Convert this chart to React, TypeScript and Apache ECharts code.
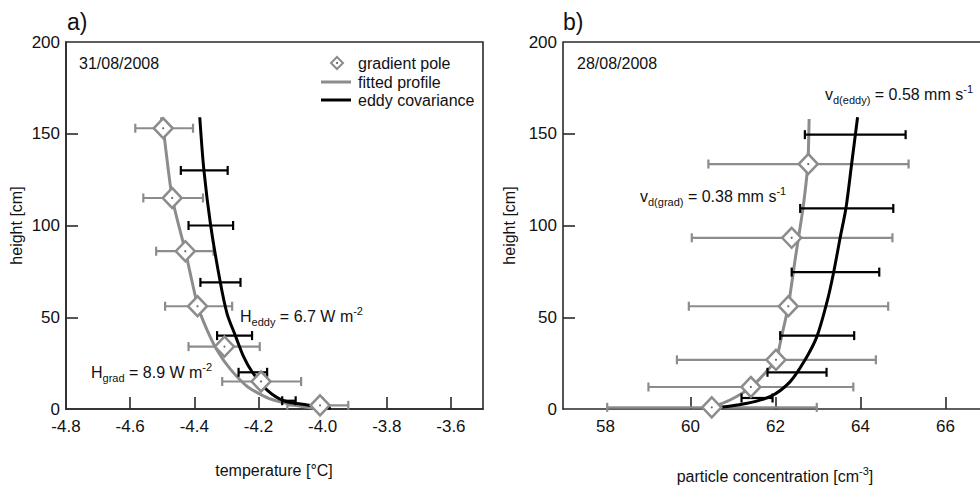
import React, { useEffect, useRef } from "react";
import * as echarts from "echarts";

// ---------- Panel a: temperature ----------
const tempXTicks = [-4.8, -4.6, -4.4, -4.2, -4.0, -3.8, -3.6];
const heightTicks = [0, 50, 100, 150, 200];

// gradient pole (diamonds) with horizontal error bars
const tempGradHeights = [153, 115, 86, 56, 34, 15, 2];
const tempGradValues = [-4.497, -4.469, -4.428, -4.39, -4.306, -4.192, -4.008];
const tempGradLow = [-4.584, -4.559, -4.519, -4.491, -4.418, -4.313, -4.11];
const tempGradHigh = [-4.404, -4.373, -4.34, -4.282, -4.196, -4.067, -3.92];

// fitted profile (grey curve)
const tempFitHeights = [159, 153, 115, 86, 56, 43, 32, 22, 12, 5.8, 2.2, 0.4];
const tempFitValues = [-4.503, -4.497, -4.469, -4.428, -4.389, -4.36, -4.329, -4.289, -4.233, -4.168, -4.09, -4.027];

// eddy covariance (black curve)
const tempEddyHeights = [159, 130, 100, 70, 52, 40, 28.4, 20.3, 10.3, 4.5, 2.2, 1.2, 0.4];
const tempEddyValues = [-4.383, -4.37, -4.349, -4.32, -4.298, -4.272, -4.246, -4.22, -4.173, -4.121, -4.048, -4.006, -3.975];

// eddy covariance error bars
const tempEddyBarHeights = [130, 100, 69, 40, 20, 4.5];
const tempEddyBarLow = [-4.442, -4.418, -4.381, -4.329, -4.262, -4.126];
const tempEddyBarHigh = [-4.296, -4.279, -4.256, -4.22, -4.173, -4.084];

// ---------- Panel b: particle concentration ----------
const partXTicks = [58, 60, 62, 64, 66];

const partGradHeights = [133.5, 93.3, 56, 26.8, 12, 0.9];
const partGradValues = [62.77, 62.38, 62.3, 62.01, 61.42, 60.5];
const partGradLow = [60.42, 60.03, 59.96, 59.68, 59.01, 58.04];
const partGradHigh = [65.13, 64.75, 64.65, 64.36, 63.83, 62.97];

const partFitHeights = [158, 133.5, 110, 93.3, 82.8, 56, 39.3, 26.8, 18.5, 11.8, 4.9, 0.9];
const partFitValues = [62.79, 62.76, 62.65, 62.54, 62.47, 62.3, 62.14, 62.01, 61.71, 61.42, 60.93, 60.5];

const partEddyHeights = [159, 133.5, 110, 93.3, 73.7, 59.2, 39.3, 26.6, 14.8, 6.7, 2.7, 0.9];
const partEddyValues = [63.93, 63.79, 63.66, 63.52, 63.36, 63.22, 62.97, 62.69, 62.34, 61.87, 61.24, 60.69];

const partEddyBarHeights = [149.5, 109.3, 74.6, 40, 20, 6];
const partEddyBarLow = [62.69, 62.58, 62.38, 62.11, 61.81, 61.2];
const partEddyBarHigh = [65.06, 64.77, 64.44, 63.85, 63.2, 61.93];

const GREY = "#8c8c8c";
const AXIS = "#2a2a2a";
const FONT = "'Liberation Sans', Arial, sans-serif";

function pairs(xs: number[], ys: number[]) {
  return xs.map((x, i) => [x, ys[i]]);
}
function bars(h: number[], lo: number[], hi: number[]) {
  return h.map((v, i) => [v, lo[i], hi[i]]);
}

function errRender(color: string) {
  return (params: any, api: any) => {
    const h = api.value(0);
    const lo = api.coord([api.value(1), h]);
    const hi = api.coord([api.value(2), h]);
    const cap = 4.5;
    const st = { stroke: color, lineWidth: 2.2 };
    return {
      type: "group",
      children: [
        { type: "line", shape: { x1: lo[0], y1: lo[1], x2: hi[0], y2: hi[1] }, style: st },
        { type: "line", shape: { x1: lo[0], y1: lo[1] - cap, x2: lo[0], y2: lo[1] + cap }, style: st },
        { type: "line", shape: { x1: hi[0], y1: hi[1] - cap, x2: hi[0], y2: hi[1] + cap }, style: st },
      ],
    };
  };
}

function panelSeries(idx: number, gradH: number[], gradV: number[], gradLo: number[], gradHi: number[],
  fitH: number[], fitV: number[], eddyH: number[], eddyV: number[], ebH: number[], ebLo: number[], ebHi: number[]) {
  const ax = { xAxisIndex: idx, yAxisIndex: idx };
  return [
    {
      type: "custom", ...ax, renderItem: errRender(GREY), z: 2,
      encode: { x: [1, 2], y: 0 }, data: bars(gradH, gradLo, gradHi), silent: true,
    },
    {
      type: "line", ...ax, z: 3, smooth: 0.2, showSymbol: false, symbol: "none",
      lineStyle: { color: GREY, width: 3 }, data: pairs(fitV, fitH),
    },
    {
      type: "line", ...ax, z: 4, smooth: 0.3, showSymbol: false, symbol: "none",
      lineStyle: { color: "#000", width: 3 }, data: pairs(eddyV, eddyH),
    },
    {
      type: "custom", ...ax, renderItem: errRender("#000"), z: 5,
      encode: { x: [1, 2], y: 0 }, data: bars(ebH, ebLo, ebHi), silent: true,
    },
    {
      type: "scatter", ...ax, z: 6, symbol: "diamond", symbolSize: [19, 20],
      itemStyle: { color: "#fff", borderColor: GREY, borderWidth: 2.5, opacity: 1 },
      data: pairs(gradV, gradH),
    },
    {
      type: "scatter", ...ax, z: 7, symbol: "circle", symbolSize: 2.2,
      itemStyle: { color: "#444" }, data: pairs(gradV, gradH),
    },
  ];
}

function xAxisDef(idx: number, min: number, max: number, ticks: number[], fmt: (v: number) => string) {
  return {
    type: "value", gridIndex: idx, min, max,
    axisLine: { show: true, onZero: false, lineStyle: { color: AXIS, width: 1.6 } },
    axisTick: { show: true, inside: true, length: 12, customValues: ticks.slice(1), lineStyle: { color: AXIS, width: 1.6 } },
    axisLabel: { customValues: ticks, formatter: fmt, fontSize: 17, color: "#111", margin: 9, fontFamily: FONT },
    splitLine: { show: false },
  };
}

function yAxisDef(idx: number, gap: number) {
  return {
    type: "value", gridIndex: idx, min: 0, max: 200,
    axisLine: { show: true, onZero: false, lineStyle: { color: AXIS, width: 1.6 } },
    axisTick: { show: true, inside: true, length: 12, customValues: heightTicks.slice(1, 4), lineStyle: { color: AXIS, width: 1.6 } },
    axisLabel: { customValues: heightTicks, fontSize: 17, color: "#111", margin: 6, fontFamily: FONT },
    splitLine: { show: false },
    name: "height [cm]", nameLocation: "middle", nameGap: gap,
    nameTextStyle: { fontSize: 16, color: "#111", fontFamily: FONT },
  };
}

const rich = {
  sub: { fontSize: 11, lineHeight: 11, verticalAlign: "bottom", fontFamily: FONT, fill: "#111", color: "#111" },
  sup: { fontSize: 11, lineHeight: 11, verticalAlign: "top", fontFamily: FONT, fill: "#111", color: "#111" },
};

function txt(x: number, y: number, text: string, size = 16, align = "left", withRich = false) {
  const style: any = {
    text, x, y, fontSize: size, fontFamily: FONT, fill: "#111",
    align, verticalAlign: "middle",
  };
  if (withRich) {
    style.rich = rich;
    style.lineHeight = 22;
  }
  return { type: "text", z: 20, style };
}

export default function App() {
  const ref = useRef<HTMLDivElement>(null);
  useEffect(() => {
    if (!ref.current) return;
    const chart = echarts.init(ref.current, undefined, { renderer: "svg" });
    const option: any = {
      animation: false,
      backgroundColor: "#fff",
      textStyle: { fontFamily: FONT },
      grid: [
        { left: 66, top: 42, width: 417, height: 367, show: true, borderColor: AXIS, borderWidth: 1.6, backgroundColor: "transparent", containLabel: false },
        { left: 563, top: 42, width: 417, height: 367, show: false, containLabel: false },
      ],
      xAxis: [
        xAxisDef(0, -4.8, -3.5, tempXTicks, (v: number) => v.toFixed(1)),
        xAxisDef(1, 57, 66.81, partXTicks, (v: number) => String(Math.round(v))),
      ],
      yAxis: [yAxisDef(0, 42), yAxisDef(1, 46)],
      series: [
        ...panelSeries(0, tempGradHeights, tempGradValues, tempGradLow, tempGradHigh,
          tempFitHeights, tempFitValues, tempEddyHeights, tempEddyValues,
          tempEddyBarHeights, tempEddyBarLow, tempEddyBarHigh),
        ...panelSeries(1, partGradHeights, partGradValues, partGradLow, partGradHigh,
          partFitHeights, partFitValues, partEddyHeights, partEddyValues,
          partEddyBarHeights, partEddyBarLow, partEddyBarHigh),
      ],
      graphic: [
        // top frame of panel b (continues past the page edge)
        { type: "line", z: 10, shape: { x1: 563, y1: 42, x2: 980, y2: 42 }, style: { stroke: AXIS, lineWidth: 1.6 } },
        txt(67, 22, "a)", 23),
        txt(563, 22, "b)", 23),
        txt(79, 63, "31/08/2008", 16),
        txt(577, 63, "28/08/2008", 16),
        // legend
        {
          type: "polygon", z: 20,
          shape: { points: [[337, 57], [343, 63], [337, 69], [331, 63]] },
          style: { fill: "#fff", stroke: GREY, lineWidth: 2 },
        },
        { type: "circle", z: 21, shape: { cx: 337, cy: 63, r: 1 }, style: { fill: "#555" } },
        { type: "line", z: 20, shape: { x1: 321, y1: 82, x2: 351, y2: 82 }, style: { stroke: GREY, lineWidth: 3 } },
        { type: "line", z: 20, shape: { x1: 321, y1: 100, x2: 351, y2: 100 }, style: { stroke: "#000", lineWidth: 3 } },
        txt(358, 63, "gradient pole", 16),
        txt(358, 82, "fitted profile", 16),
        txt(358, 100, "eddy covariance", 16),
        // annotations
        txt(240, 316, "H{sub|eddy} = 6.7 W m{sup|-2}", 16, "left", true),
        txt(91, 372, "H{sub|grad} = 8.9 W m{sup|-2}", 16, "left", true),
        txt(640, 196, "v{sub|d(grad)} = 0.38 mm s{sup|-1}", 16, "left", true),
        txt(825, 94, "v{sub|d(eddy)} = 0.58 mm s{sup|-1}", 16, "left", true),
        // x axis titles
        txt(274, 470, "temperature [°C]", 16, "center"),
        txt(775, 476, "particle concentration [cm{sup|-3}]", 16, "center", true),
      ],
    };
    chart.setOption(option);
    return () => chart.dispose();
  }, []);
  return (
    <div
      ref={ref}
      style={{ position: "absolute", left: 0, top: 0, width: 980, height: 490, background: "#fff" }}
    />
  );
}
